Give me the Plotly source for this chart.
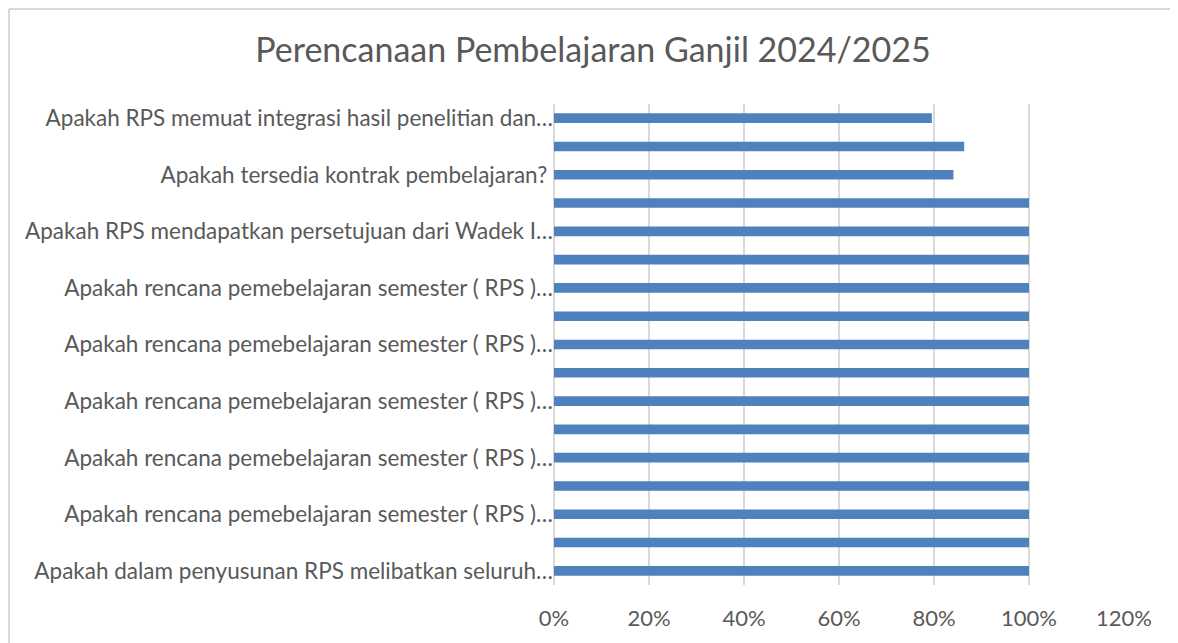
import plotly.graph_objects as go

# Categories from bottom to top (Excel order); hidden labels are skipped by the axis
categories = [
    "Q01", "Q02", "Q03", "Q04", "Q05", "Q06", "Q07", "Q08", "Q09",
    "Q10", "Q11", "Q12", "Q13", "Q14", "Q15", "Q16", "Q17",
]
values = [
    1.0, 1.0, 1.0, 1.0, 1.0, 1.0, 1.0, 1.0, 1.0,
    1.0, 1.0, 1.0, 1.0, 1.0, 0.8409, 0.8636, 0.7955,
]
label_categories = ["Q01", "Q03", "Q05", "Q07", "Q09", "Q11", "Q13", "Q15", "Q17"]
label_texts = [
    "Apakah dalam penyusunan RPS melibatkan seluruh…",
    "Apakah rencana pemebelajaran semester ( RPS )…",
    "Apakah rencana pemebelajaran semester ( RPS )…",
    "Apakah rencana pemebelajaran semester ( RPS )…",
    "Apakah rencana pemebelajaran semester ( RPS )…",
    "Apakah rencana pemebelajaran semester ( RPS )…",
    "Apakah RPS mendapatkan persetujuan dari Wadek I…",
    "Apakah tersedia kontrak pembelajaran? ",
    "Apakah RPS memuat integrasi hasil penelitian dan…",
]
x_ticks = [0, 0.2, 0.4, 0.6, 0.8, 1.0, 1.2]
x_tick_text = ["0%", "20%", "40%", "60%", "80%", "100%", "120%"]
title_text = "Perencanaan Pembelajaran Ganjil 2024/2025"

# page body has an 8px margin, so the figure is sized/offset to compensate
OFF = 8
W, H = 1178 - OFF, 643 - OFF
L, R, T, B = 554 - OFF, 54, 104 - OFF, 58
pw, ph = W - L - R, H - T - B

def px_x(p):
    return (p - L) / pw

def px_y(p):
    return (H - B - p) / ph

FONT = "Lato"
GREY = "#595959"
BORDER = "#D9D9D9"

fig = go.Figure(go.Bar(
    x=values, y=categories, orientation="h",
    marker=dict(color="#4F81BD", line=dict(width=0)),
    hoverinfo="x+y",
))

fig.update_layout(
    width=W, height=H,
    margin=dict(l=L, r=R, t=T, b=B, autoexpand=False),
    paper_bgcolor="white", plot_bgcolor="white",
    bargap=0.66,
    showlegend=False,
    title=dict(text=title_text, x=0.5, xanchor="center", xref="container",
               y=1 - 42 / H, yanchor="middle", yref="container",
               font=dict(family=FONT, size=34, color=GREY)),
    font=dict(family=FONT, color=GREY),
    xaxis=dict(range=[0, 1.2], tickvals=x_ticks, ticktext=x_tick_text,
               showgrid=True, gridcolor="#D9D9D9", gridwidth=1.5,
               zeroline=True, zerolinecolor="#D9D9D9", zerolinewidth=1.5,
               showline=False, ticks="", fixedrange=True, ticklabelstandoff=18,
               tickfont=dict(family=FONT, size=22, color=GREY)),
    yaxis=dict(type="category", categoryorder="array", categoryarray=categories,
               tickvals=label_categories, ticktext=label_texts,
               showgrid=False, showline=False, zeroline=False, ticks="",
               range=[-0.5, len(categories) - 0.5], fixedrange=True,
               tickfont=dict(family=FONT, size=22.5, color=GREY)),
    shapes=[
        dict(type="line", xref="paper", yref="paper",
             x0=px_x(1), x1=px_x(W), y0=px_y(1), y1=px_y(1),
             line=dict(color=BORDER, width=2), layer="below"),
        dict(type="line", xref="paper", yref="paper",
             x0=px_x(1), x1=px_x(1), y0=px_y(1), y1=px_y(H),
             line=dict(color=BORDER, width=2), layer="below"),
    ],
)

fig.write_html("out.html")
